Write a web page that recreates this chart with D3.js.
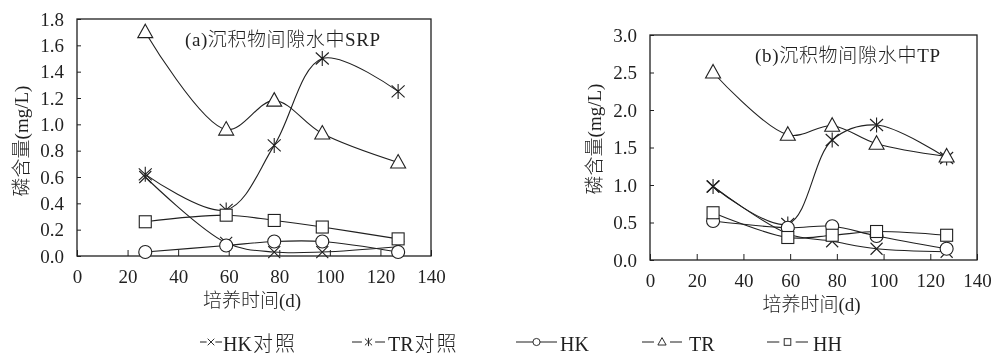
<!DOCTYPE html>
<html>
<head>
<meta charset="utf-8">
<script src="https://cdn.jsdelivr.net/npm/d3@7"></script>
<style>
  body { margin: 0; background: #fff; }
  svg { filter: grayscale(100%); }
</style>
</head>
<body>
<div id="chart"></div>
<script>
"use strict";
// sampling days
var days = [27, 59, 78, 97, 127];
var seriesNames = ["HK对照", "TR对照", "HK", "TR", "HH"];
var seriesShapes = ["cross", "star", "circle", "triangle", "square"];

// (a) SRP in pore water, mg/L
var srpHKck = [0.60, 0.10, 0.03, 0.03, 0.07];
var srpTRck = [0.62, 0.35, 0.84, 1.50, 1.25];
var srpHK = [0.03, 0.08, 0.11, 0.11, 0.03];
var srpTR = [1.70, 0.96, 1.18, 0.93, 0.71];
var srpHH = [0.26, 0.31, 0.27, 0.22, 0.13];

// (b) TP in pore water, mg/L
var tpHKck = [0.98, 0.35, 0.25, 0.15, 0.11];
var tpTRck = [0.98, 0.48, 1.60, 1.80, 1.36];
var tpHK = [0.52, 0.43, 0.45, 0.32, 0.15];
var tpTR = [2.50, 1.67, 1.79, 1.55, 1.38];
var tpHH = [0.63, 0.30, 0.33, 0.38, 0.33];

var xTicks = [0, 20, 40, 60, 80, 100, 120, 140];
var srpTicks = [0, 0.2, 0.4, 0.6, 0.8, 1.0, 1.2, 1.4, 1.6, 1.8];
var tpTicks = [0, 0.5, 1.0, 1.5, 2.0, 2.5, 3.0];

var W = 991, H = 356;
var ink = "#231f20";
var fontFam = "'Liberation Serif', 'Times New Roman', 'Noto Sans CJK SC', serif";
var svg = d3.select("#chart").append("svg")
  .attr("width", W)
  .attr("height", H);

function txt(sel) {
  return sel.append("text")
    .style("font-family", fontFam)
    .style("font-weight", 300)
    .attr("fill", ink);
}

function drawMarker(sel, shape, x, y, sw) {
  var gm = sel.append("g").attr("transform", "translate(" + x + "," + y + ")")
    .attr("fill", "none").attr("stroke", ink).attr("stroke-width", sw || 1.1);
  if (shape === "cross") {
    gm.append("path").attr("d", "M-6,-6L6,6M-6,6L6,-6");
  } else if (shape === "star") {
    gm.append("path").attr("d", "M-6.5,-6L6.5,6M-6.5,6L6.5,-6M0,-7.5L0,7.5");
  } else if (shape === "circle") {
    gm.append("circle").attr("r", 6.5).attr("fill", "#fff");
  } else if (shape === "triangle") {
    gm.append("path").attr("d", "M0,-8L7.5,5.5L-7.5,5.5Z").attr("fill", "#fff");
  } else if (shape === "square") {
    gm.append("rect").attr("x", -6).attr("y", -6).attr("width", 12).attr("height", 12).attr("fill", "#fff");
  }
}

function panel(opt) {
  var x = d3.scaleLinear().domain([0, 140]).range(opt.xr);
  var y = d3.scaleLinear().domain([0, opt.ymax]).range(opt.yr);
  var p = svg.append("g");

  // frame
  p.append("rect")
    .attr("x", opt.xr[0]).attr("y", opt.yr[1])
    .attr("width", opt.xr[1] - opt.xr[0]).attr("height", opt.yr[0] - opt.yr[1])
    .attr("fill", "none").attr("stroke", ink).attr("stroke-width", 1.3);

  var xa = p.append("g").attr("transform", "translate(0," + opt.yr[0] + ")")
    .call(d3.axisBottom(x).tickValues(xTicks).tickSize(-6).tickPadding(14).tickFormat(d3.format("d")));
  xa.select(".domain").remove();
  xa.selectAll("line").attr("stroke", ink);
  xa.selectAll("text").style("font-family", fontFam).attr("font-size", 19).attr("fill", ink);

  var ya = p.append("g").attr("transform", "translate(" + opt.xr[0] + ",0)")
    .call(d3.axisLeft(y).tickValues(opt.ticks).tickSize(-4).tickPadding(13).tickFormat(d3.format(".1f")));
  ya.select(".domain").remove();
  ya.selectAll("line").attr("stroke", ink);
  ya.selectAll("text").style("font-family", fontFam).attr("font-size", 19).attr("fill", ink);

  var line = d3.line()
    .x(function(d, i) { return x(days[i]); })
    .y(function(d) { return y(d); })
    .curve(d3.curveCatmullRom.alpha(0.5));

  opt.series.forEach(function(vals) {
    p.append("path").datum(vals).attr("d", line)
      .attr("fill", "none").attr("stroke", ink).attr("stroke-width", 1.1);
  });
  opt.series.forEach(function(vals, si) {
    vals.forEach(function(v, i) {
      drawMarker(p, seriesShapes[si], x(days[i]), y(v));
    });
  });

  txt(p).attr("x", opt.title[0]).attr("y", opt.title[1])
    .attr("font-size", 19)
    .attr("textLength", opt.title[2]).attr("lengthAdjust", "spacing")
    .text(opt.titleText);
  txt(p).attr("x", (opt.xr[0] + opt.xr[1]) / 2 - 2).attr("y", opt.yr[0] + 51)
    .attr("text-anchor", "middle").attr("font-size", 19).text("培养时间(d)");
  txt(p)
    .attr("transform", "translate(" + opt.ylab[0] + "," + opt.ylab[1] + ") rotate(-90)")
    .attr("text-anchor", "middle").attr("font-size", 19)
    .text("磷含量(mg/L)");
}

panel({
  xr: [77, 431], yr: [256, 19], ymax: 1.8, ticks: srpTicks,
  series: [srpHKck, srpTRck, srpHK, srpTR, srpHH],
  titleText: "(a)沉积物间隙水中SRP", title: [185, 46, 195], ylab: [28, 141]
});
panel({
  xr: [650, 977], yr: [260, 35], ymax: 3.0, ticks: tpTicks,
  series: [tpHKck, tpTRck, tpHK, tpTR, tpHH],
  titleText: "(b)沉积物间隙水中TP", title: [755, 62, 185], ylab: [601, 139]
});

// legend: symbol start, symbol width; text start
var legSym = [[200, 22], [352, 33], [516, 41], [642, 40], [767, 41]];
var legTxt = [223, 388, 560, 689, 813];
var leg = svg.append("g");
seriesNames.forEach(function(name, i) {
  var gx = legSym[i][0], w = legSym[i][1], cy = 342;
  if (seriesShapes[i] === "circle") {
    leg.append("line").attr("x1", gx).attr("x2", gx + w).attr("y1", cy).attr("y2", cy)
      .attr("stroke", ink).attr("stroke-width", 1);
  } else {
    var d = w * 0.3;
    leg.append("line").attr("x1", gx).attr("x2", gx + d).attr("y1", cy).attr("y2", cy)
      .attr("stroke", ink).attr("stroke-width", 1);
    leg.append("line").attr("x1", gx + w - d).attr("x2", gx + w).attr("y1", cy).attr("y2", cy)
      .attr("stroke", ink).attr("stroke-width", 1);
  }
  var mg = leg.append("g").attr("transform", "translate(" + (gx + w / 2) + "," + cy + ") scale(0.55)");
  drawMarker(mg, seriesShapes[i], 0, 0, 1.7);
  var t = txt(leg).attr("x", legTxt[i]).attr("y", 351).attr("font-size", 20);
  var latin = name.replace("对照", "");
  t.append("tspan").text(latin);
  if (latin !== name) {
    t.append("tspan").attr("dx", 1).attr("letter-spacing", 2).text("对照");
  }
});
</script>
</body>
</html>
